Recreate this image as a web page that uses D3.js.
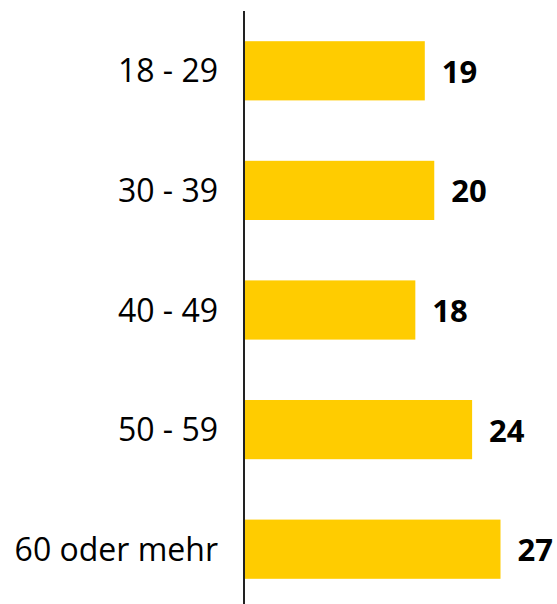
<!DOCTYPE html>
<html>
<head>
<meta charset="utf-8">
<script src="https://cdn.jsdelivr.net/npm/d3@7"></script>
<style>
  html, body { margin: 0; padding: 0; background: #fff; }
  svg { display: block; }
</style>
</head>
<body>
<div id="chart"></div>
<script>
// --- Data ---------------------------------------------------------------
const categories = ['18 - 29', '30 - 39', '40 - 49', '50 - 59', '60 oder mehr'];
const values = [19, 20, 18, 24, 27];

const width = 557, height = 604;
const axisX = 244;

const svg = d3.select('#chart').append('svg')
  .attr('width', width)
  .attr('height', height);

const x = d3.scaleLinear().domain([0, 27]).range([axisX + 1, 500.5]);
const y = d3.scaleBand().domain(categories).range([11, 609]).paddingInner(0.505).paddingOuter(0.2525);

const rows = categories.map((c, i) => ({ cat: c, value: values[i] }));

// bars
svg.selectAll('rect.bar')
  .data(rows)
  .join('rect')
  .attr('class', 'bar')
  .attr('x', x(0))
  .attr('y', d => y(d.cat))
  .attr('width', d => x(d.value) - x(0))
  .attr('height', y.bandwidth())
  .attr('fill', '#FFCC00');

// category labels
svg.selectAll('text.cat')
  .data(rows)
  .join('text')
  .attr('class', 'cat')
  .attr('x', 218)
  .attr('y', d => y(d.cat) + y.bandwidth() / 2 + 11.5)
  .attr('text-anchor', 'end')
  .style('font-family', '"Open Sans", sans-serif')
  .style('font-size', '32px')
  .style('fill', '#000')
  .text(d => d.cat);

// value labels
svg.selectAll('text.val')
  .data(rows)
  .join('text')
  .attr('class', 'val')
  .attr('x', d => x(d.value) + 17)
  .attr('y', d => y(d.cat) + y.bandwidth() / 2 + 12)
  .style('font-family', '"Open Sans", sans-serif')
  .style('font-size', '31px')
  .style('font-weight', 'bold')
  .style('fill', '#000')
  .text(d => d.value);

// vertical axis line
svg.append('line')
  .attr('x1', axisX).attr('x2', axisX)
  .attr('y1', 11).attr('y2', height)
  .attr('stroke', '#222')
  .attr('stroke-width', 2);
</script>
</body>
</html>
